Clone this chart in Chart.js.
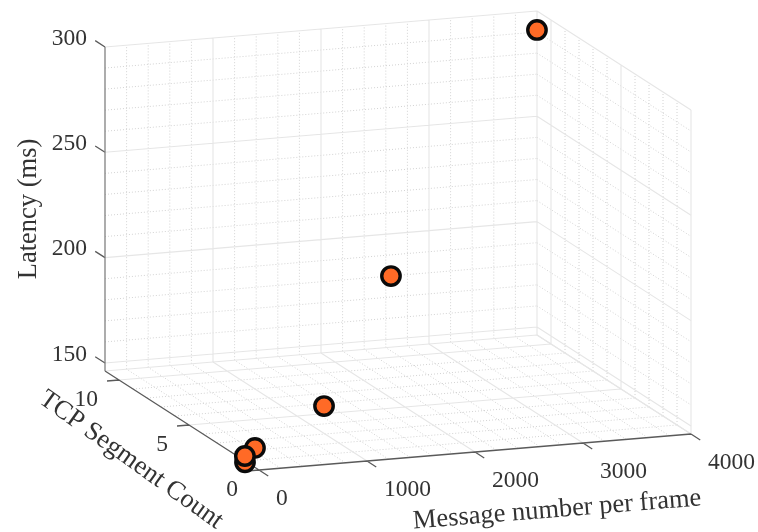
<!DOCTYPE html>
<html>
<head>
<meta charset="utf-8">
<title>Latency scatter</title>
<script src="https://cdn.jsdelivr.net/npm/chart.js@4"></script>
<style>
  html, body { margin: 0; padding: 0; background: #fff; }
  canvas { display: block; }
</style>
</head>
<body>
<canvas id="chart" width="758" height="532"></canvas>
<script>
// data (the depth of each point is a guess)
const messageCounts = [3870, 1870, 991, 222, 0, 12];
const segmentCounts = [10, 5, 3, 2, 1, 1.1];
const latencies = [295.8, 208.9, 159.5, 147.2, 145.6, 148.1];

const xTicks = [0, 1000, 2000, 3000, 4000];
const yTicks = [0, 5, 10];
const zTicks = [150, 200, 250, 300];
const xMinorTicks = [200, 400, 600, 800, 1200, 1400, 1600, 1800, 2200, 2400, 2600, 2800, 3200, 3400, 3600, 3800];
const yMinorTicks = [1, 2, 3, 4, 6, 7, 8, 9];
const zMinorTicks = [160, 170, 180, 190, 210, 220, 230, 240, 260, 270, 280, 290];

const xMin = 0, xMax = 4000;
const yMin = 0, yMax = 11;
const zMin = 146.2, zMax = 300;

const xTitle = 'Message number per frame';
const yTitle = 'TCP Segment Count';
const zTitle = 'Latency (ms)';

const FONT = '"Liberation Serif", "Times New Roman", serif';
const TEXT_COLOR = '#333333';

// orthographic view, fitted to the corners of the box in the picture
function project(x, y, z) {
    return {
        x: 105 + x * 0.108 + (yMax - y) * 14,
        y: 371 - x * 0.009 + (yMax - y) * 9 - (z - zMin) * 2.107
    };
}

function segment(a, b) {
    return [project(a[0], a[1], a[2]), project(b[0], b[1], b[2])];
}

// one dataset holding many segments, with null gaps between them
function lineDataset(segments, color, width, dash, order) {
    const points = [];
    segments.forEach(s => {
        points.push(s[0], s[1], { x: null, y: null });
    });
    return {
        type: 'scatter',
        data: points,
        showLine: true,
        spanGaps: false,
        pointRadius: 0,
        borderColor: color,
        borderWidth: width,
        borderDash: dash,
        order: order
    };
}

function gridSegments(xs, ys, zs) {
    const out = [];
    xs.forEach(x => {
        out.push(segment([x, yMin, zMin], [x, yMax, zMin]));
        out.push(segment([x, yMax, zMin], [x, yMax, zMax]));
    });
    ys.forEach(y => {
        out.push(segment([xMin, y, zMin], [xMax, y, zMin]));
        out.push(segment([xMax, y, zMin], [xMax, y, zMax]));
    });
    zs.forEach(z => {
        out.push(segment([xMin, yMax, z], [xMax, yMax, z]));
        out.push(segment([xMax, yMax, z], [xMax, yMin, z]));
    });
    return out;
}

const minorLines = gridSegments(xMinorTicks, yMinorTicks, zMinorTicks);
const majorLines = gridSegments(xTicks.slice(1), yTicks.slice(1), zTicks);
const boxLines = [
    segment([xMin, yMax, zMin], [xMax, yMax, zMin]),
    segment([xMax, yMax, zMin], [xMax, yMin, zMin]),
    segment([xMax, yMin, zMin], [xMax, yMin, zMax])
];
const axisLines = [
    segment([xMin, yMin, zMin], [xMax, yMin, zMin]),
    segment([xMin, yMin, zMin], [xMin, yMax, zMin])
];
const zAxisLines = [segment([xMin, yMax, zMin], [xMin, yMax, zMax])];

xTicks.forEach(x => axisLines.push(segment([x, yMin, zMin], [x, yMin - 0.66, zMin])));
yTicks.forEach(y => axisLines.push(segment([xMin, y, zMin], [xMin - 111, y, zMin])));
zTicks.forEach(z => axisLines.push(segment([xMin, yMax, z], [xMin, yMax + 0.7, z])));

const points = messageCounts.map((m, i) => project(m, segmentCounts[i], latencies[i]));

// tick labels and axis titles, placed from the same projection
const axisText = {
    id: 'axisText',
    afterDatasetsDraw(chart) {
        const ctx = chart.ctx;
        const sx = chart.scales.x, sy = chart.scales.y;
        const at = p => ({ x: sx.getPixelForValue(p.x), y: sy.getPixelForValue(p.y) });

        ctx.save();
        ctx.fillStyle = TEXT_COLOR;
        ctx.font = '23.5px ' + FONT;
        ctx.textBaseline = 'middle';

        ctx.textAlign = 'right';
        zTicks.forEach(z => {
            const p = at(project(xMin, yMax, z));
            ctx.fillText(String(z), p.x - 18, p.y - 8.5);
        });
        yTicks.forEach(y => {
            const p = at(project(xMin, y, zMin));
            ctx.fillText(String(y), p.x - 21, p.y + 19.5);
        });
        ctx.textAlign = 'left';
        xTicks.forEach(x => {
            const p = at(project(x, yMin, zMin));
            ctx.fillText(String(x), p.x + 17, p.y + 29);
        });

        ctx.font = '26.5px ' + FONT;
        ctx.textAlign = 'center';
        const title = (text, cx, cy, angle) => {
            ctx.save();
            ctx.translate(cx, cy);
            ctx.rotate(angle * Math.PI / 180);
            ctx.fillText(text, 0, 0);
            ctx.restore();
        };
        title(zTitle, 29, 209, -90);
        title(yTitle, 131, 460, 35.5);
        title(xTitle, 557, 510, -4.6);
        ctx.restore();
    }
};

new Chart(document.getElementById('chart').getContext('2d'), {
    type: 'scatter',
    data: {
        datasets: [
            {
                label: 'Latency',
                data: points,
                pointRadius: 9.2,
                pointHoverRadius: 9.2,
                pointBackgroundColor: '#ff6a26',
                pointBorderColor: '#0a0a0a',
                pointBorderWidth: 3.4,
                showLine: false,
                order: 0
            },
            lineDataset(zAxisLines, '#808080', 1.3, [], 1),
            lineDataset(axisLines, '#5a5a5a', 1.3, [], 1),
            lineDataset(boxLines, '#e6e6e6', 1.1, [], 2),
            lineDataset(majorLines, '#e6e6e6', 1.1, [], 2),
            lineDataset(minorLines, '#d2d2d2', 1, [1, 2], 3)
        ]
    },
    options: {
        responsive: false,
        animation: false,
        layout: { padding: 0, autoPadding: false },
        plugins: { legend: { display: false }, tooltip: { enabled: false } },
        scales: {
            x: { type: 'linear', min: 0, max: 758, display: false },
            y: { type: 'linear', min: 0, max: 532, reverse: true, display: false }
        }
    },
    plugins: [axisText]
});
</script>
</body>
</html>
